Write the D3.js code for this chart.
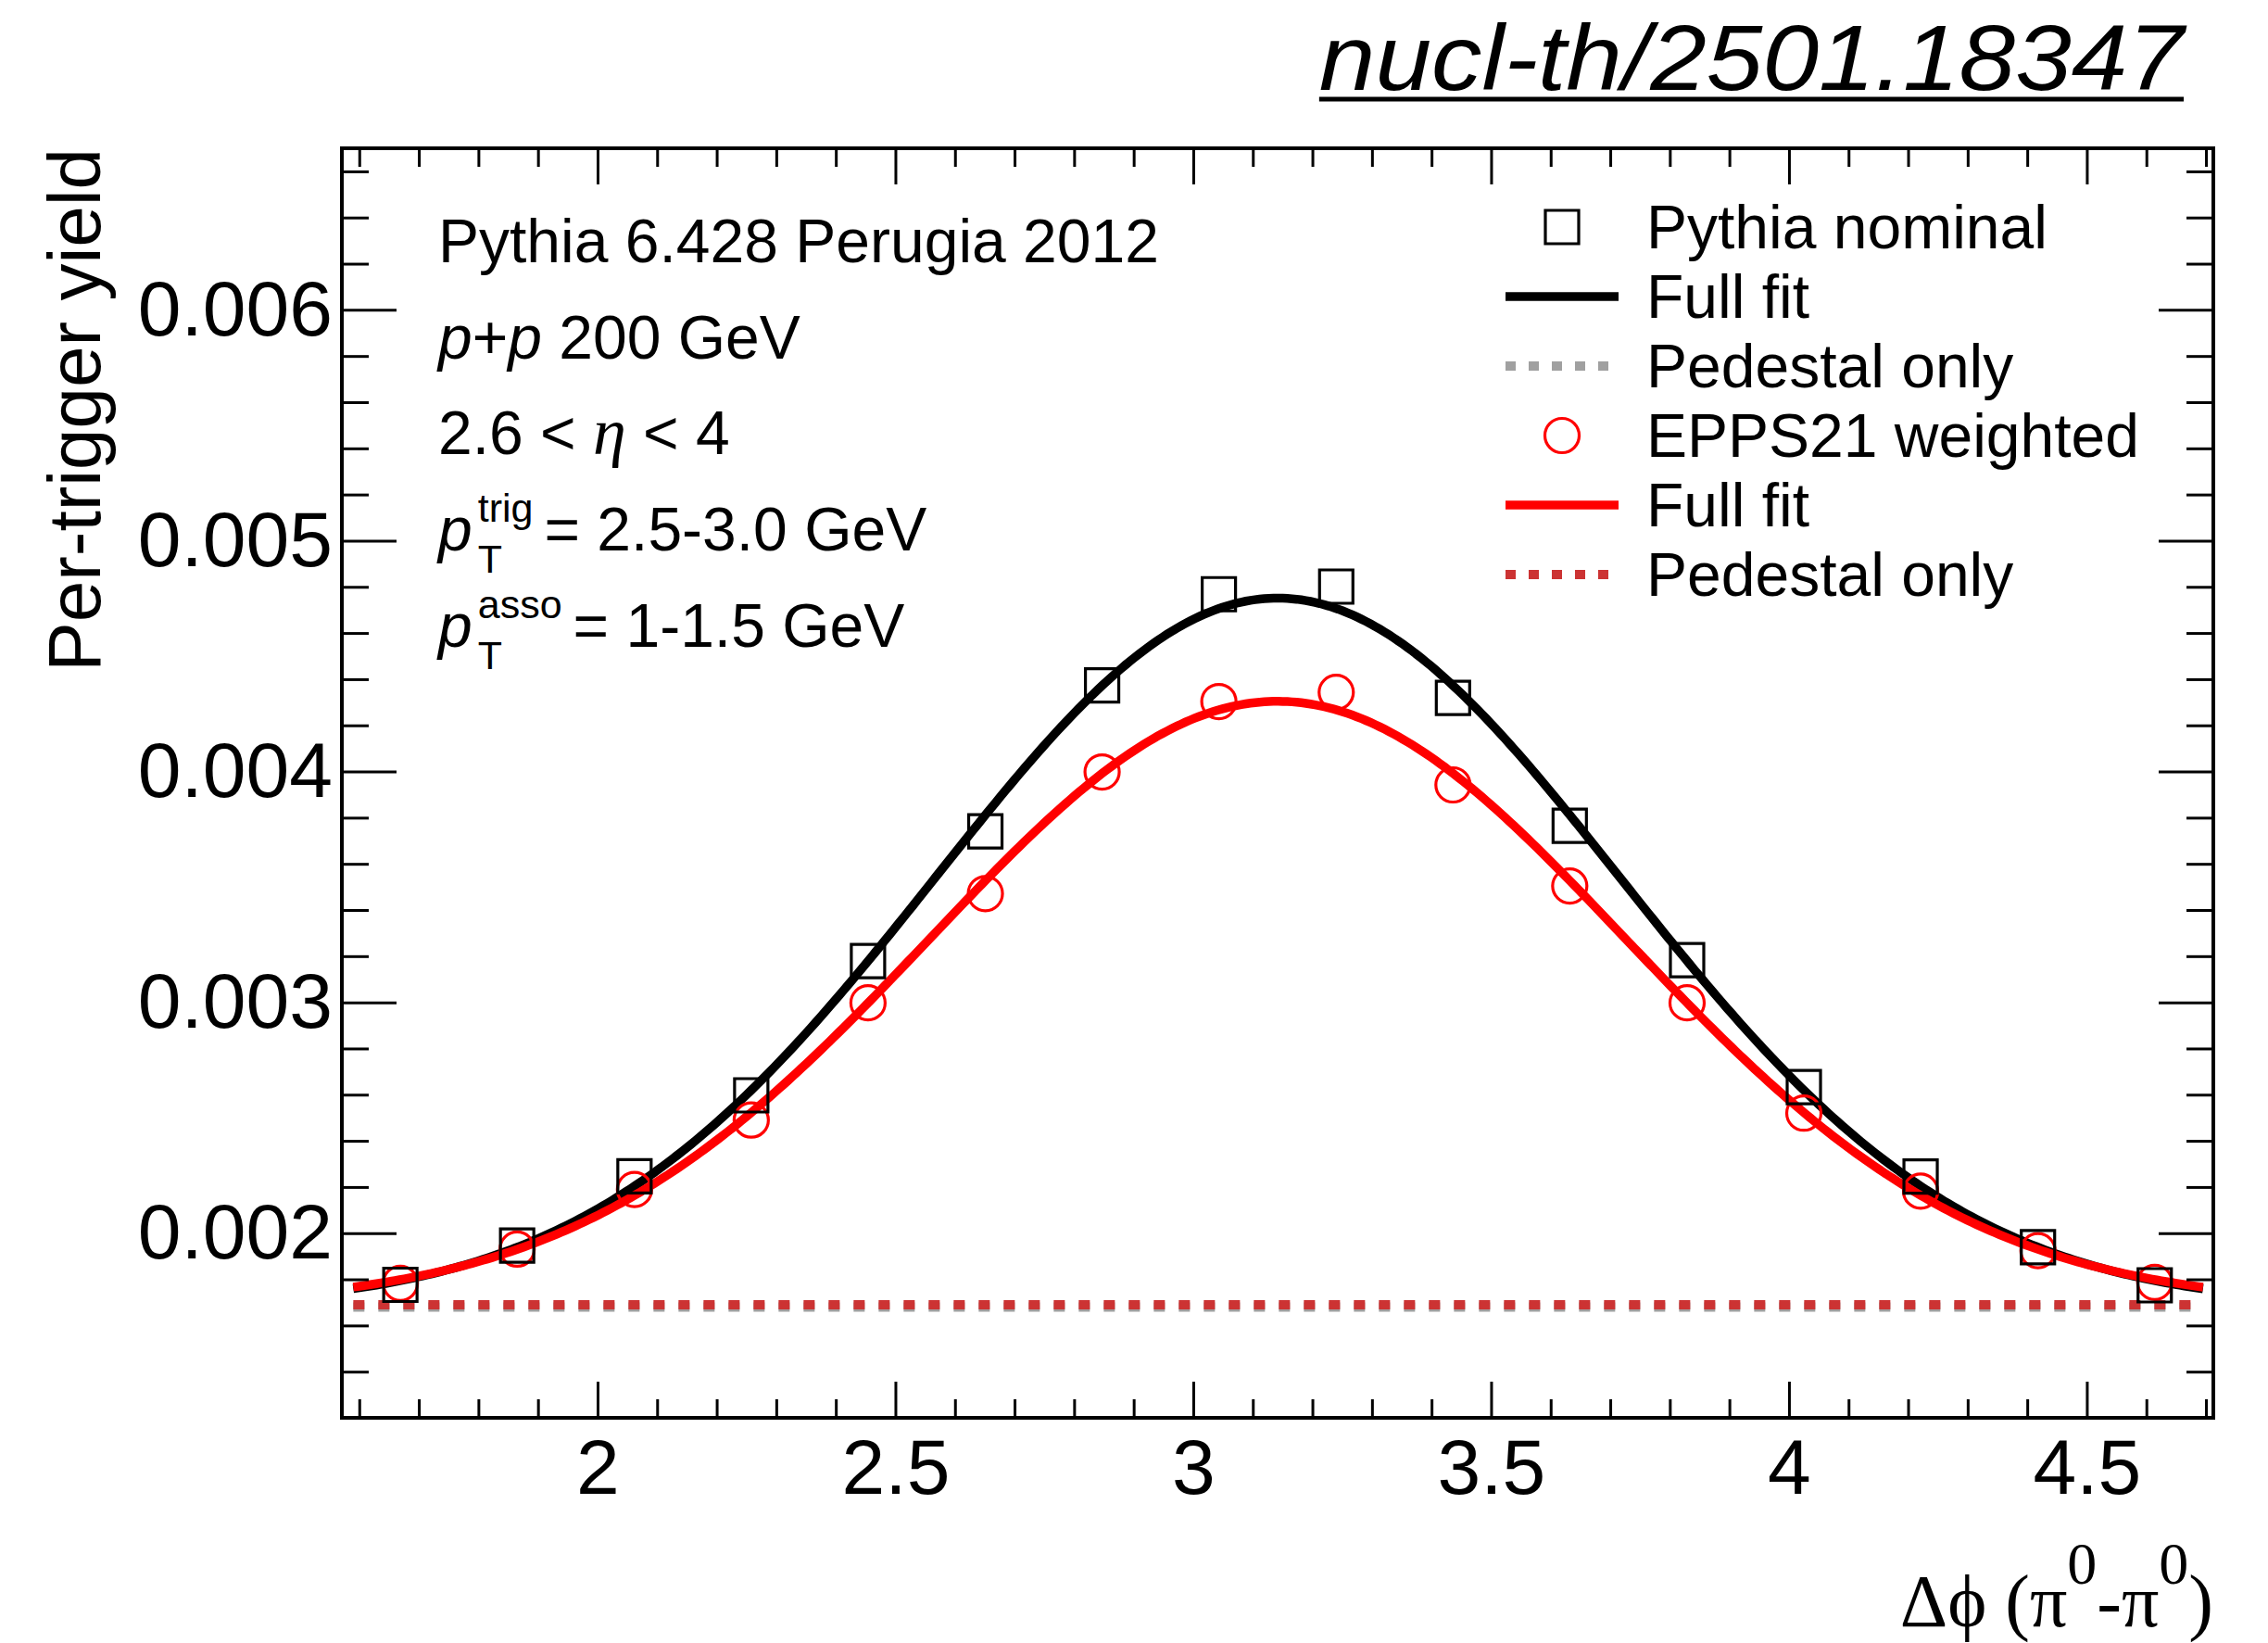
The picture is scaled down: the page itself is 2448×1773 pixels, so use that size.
<!DOCTYPE html>
<html>
<head>
<meta charset="utf-8">
<script src="https://cdn.jsdelivr.net/npm/d3@7"></script>
<style>
  html, body { margin: 0; padding: 0; background: #ffffff; }
  svg { display: block; }
</style>
</head>
<body>
<svg id="chart" width="2448" height="1773"></svg>
<script>
// Δφ bin centres (rad) of the away-side correlation histogram
const dphiBins = [1.669, 1.865, 2.062, 2.258, 2.454, 2.651, 2.847, 3.043,
                  3.240, 3.436, 3.632, 3.829, 4.025, 4.221, 4.418, 4.614];

// Per-trigger yields
const pythiaNominal = [0.001776, 0.001946, 0.002246, 0.002597, 0.003179, 0.003741, 0.004373, 0.004768,
                       0.004801, 0.004319, 0.003765, 0.003183, 0.002633, 0.002245, 0.001939, 0.001774];
const epps21Weighted = [0.001783, 0.001931, 0.002189, 0.002490, 0.002998, 0.003471, 0.003998, 0.004303,
                        0.004343, 0.003942, 0.003504, 0.002998, 0.002520, 0.002182, 0.001924, 0.001787];

// Gaussian + pedestal fit results: [Pythia nominal, EPPS21 weighted]
const fitPedestal  = [0.00168, 0.00169];
const fitAmplitude = [0.003071, 0.002614];
const fitMean      = [3.1416, 3.1416];
const fitSigma     = [0.574, 0.584];
const fitRange     = [1.59, 4.695];

// Axis ticks
const xMajorTicks = [2, 2.5, 3, 3.5, 4, 4.5];
const xMinorTicks = [1.6, 1.7, 1.8, 1.9, 2.1, 2.2, 2.3, 2.4, 2.6, 2.7, 2.8, 2.9, 3.1, 3.2, 3.3, 3.4,
                     3.6, 3.7, 3.8, 3.9, 4.1, 4.2, 4.3, 4.4, 4.6, 4.7];
const yMajorTicks = [0.002, 0.003, 0.004, 0.005, 0.006];
const yMinorTicks = [0.0014, 0.0016, 0.0018, 0.0022, 0.0024, 0.0026, 0.0028, 0.0032, 0.0034, 0.0036, 0.0038,
                     0.0042, 0.0044, 0.0046, 0.0048, 0.0052, 0.0054, 0.0056, 0.0058, 0.0062, 0.0064, 0.0066];

// Legend entries
const legendLabels = ["Pythia nominal", "Full fit", "Pedestal only", "EPPS21 weighted", "Full fit", "Pedestal only"];

const SANS = "'Liberation Sans', Arial, Helvetica, sans-serif";
const SERIF = "'Liberation Serif', 'Times New Roman', serif";

const svg = d3.select("#chart");
const frame = { left: 369, right: 2389, top: 160, bottom: 1530 };

const x = d3.scaleLinear().domain([Math.PI / 2, 3 * Math.PI / 2]).range([frame.left, frame.right]);
const y = d3.scaleLinear().domain([0.0012, 0.0067]).range([frame.bottom, frame.top]);

svg.append("rect").attr("width", 2448).attr("height", 1773).attr("fill", "#ffffff");

svg.append("defs").append("clipPath").attr("id", "plotClip")
  .append("rect")
  .attr("x", frame.left).attr("y", frame.top)
  .attr("width", frame.right - frame.left).attr("height", frame.bottom - frame.top);

const plotArea = svg.append("g").attr("clip-path", "url(#plotClip)");

// ---- pedestal levels (dotted) ----
const pedColors = ["#a0a0a0", "#cc3333"];
[0, 1].forEach(i => {
  plotArea.append("line")
    .attr("x1", x(fitRange[0])).attr("x2", x(fitRange[1]))
    .attr("y1", y(fitPedestal[i])).attr("y2", y(fitPedestal[i]))
    .attr("stroke", pedColors[i])
    .attr("stroke-width", 10)
    .attr("stroke-dasharray", "12,15");
});

// ---- fit curves ----
const fitFn = i => t => fitPedestal[i] +
  fitAmplitude[i] * Math.exp(-((t - fitMean[i]) ** 2) / (2 * fitSigma[i] ** 2));
const samples = d3.range(0, 401).map(k => fitRange[0] + (fitRange[1] - fitRange[0]) * k / 400);
const line = d3.line().x(d => x(d[0])).y(d => y(d[1])).curve(d3.curveLinear);
const fitColors = ["#000000", "#ff0000"];
[0, 1].forEach(i => {
  const f = fitFn(i);
  plotArea.append("path")
    .datum(samples.map(t => [t, f(t)]))
    .attr("d", line)
    .attr("fill", "none")
    .attr("stroke", fitColors[i])
    .attr("stroke-width", 9.5);
});

// ---- markers ----
const circleSym = d3.symbol().type(d3.symbolCircle).size(Math.PI * 18.5 * 18.5);
const squareSym = d3.symbol().type(d3.symbolSquare).size(36 * 36);

plotArea.append("g").selectAll("path")
  .data(dphiBins.map((d, i) => [d, epps21Weighted[i]]))
  .join("path")
  .attr("transform", d => `translate(${x(d[0])},${y(d[1])})`)
  .attr("d", circleSym)
  .attr("fill", "none").attr("stroke", "#ff0000").attr("stroke-width", 3.2);

plotArea.append("g").selectAll("path")
  .data(dphiBins.map((d, i) => [d, pythiaNominal[i]]))
  .join("path")
  .attr("transform", d => `translate(${x(d[0])},${y(d[1])})`)
  .attr("d", squareSym)
  .attr("fill", "none").attr("stroke", "#000000").attr("stroke-width", 3.2);

// ---- axes (ticks on all four sides, pointing inward) ----
const TICK_FONT = 84;
function styleAxis(g) {
  g.select(".domain").remove();
  g.selectAll(".tick line").attr("stroke", "#000").attr("stroke-width", 3);
  g.attr("font-family", SANS).attr("font-size", TICK_FONT);
  g.selectAll(".tick text").attr("fill", "#000");
}

svg.append("g").attr("transform", `translate(0,${frame.bottom})`)
  .call(d3.axisBottom(x).tickValues(xMinorTicks).tickSizeInner(-20).tickSizeOuter(0).tickFormat(""))
  .call(styleAxis);
svg.append("g").attr("transform", `translate(0,${frame.bottom})`)
  .call(d3.axisBottom(x).tickValues(xMajorTicks).tickSizeInner(-39).tickSizeOuter(0)
    .tickPadding(22).tickFormat(d3.format("")))
  .call(styleAxis);
svg.append("g").attr("transform", `translate(0,${frame.top})`)
  .call(d3.axisTop(x).tickValues(xMinorTicks).tickSizeInner(-20).tickSizeOuter(0).tickFormat(""))
  .call(styleAxis);
svg.append("g").attr("transform", `translate(0,${frame.top})`)
  .call(d3.axisTop(x).tickValues(xMajorTicks).tickSizeInner(-39).tickSizeOuter(0).tickFormat(""))
  .call(styleAxis);

svg.append("g").attr("transform", `translate(${frame.left},0)`)
  .call(d3.axisLeft(y).tickValues(yMinorTicks).tickSizeInner(-29).tickSizeOuter(0).tickFormat(""))
  .call(styleAxis);
svg.append("g").attr("transform", `translate(${frame.left},0)`)
  .call(d3.axisLeft(y).tickValues(yMajorTicks).tickSizeInner(-59).tickSizeOuter(0)
    .tickPadding(10).tickFormat(d3.format(".3f")))
  .call(styleAxis);
svg.append("g").attr("transform", `translate(${frame.right},0)`)
  .call(d3.axisRight(y).tickValues(yMinorTicks).tickSizeInner(-29).tickSizeOuter(0).tickFormat(""))
  .call(styleAxis);
svg.append("g").attr("transform", `translate(${frame.right},0)`)
  .call(d3.axisRight(y).tickValues(yMajorTicks).tickSizeInner(-59).tickSizeOuter(0).tickFormat(""))
  .call(styleAxis);

// frame
svg.append("rect")
  .attr("x", frame.left).attr("y", frame.top)
  .attr("width", frame.right - frame.left).attr("height", frame.bottom - frame.top)
  .attr("fill", "none").attr("stroke", "#000").attr("stroke-width", 4);

// ---- axis titles ----
svg.append("text")
  .attr("transform", `translate(108,${frame.top}) rotate(-90)`)
  .attr("text-anchor", "end")
  .attr("font-family", SANS).attr("font-size", 80)
  .text("Per-trigger yield");

const xTitle = svg.append("text")
  .attr("x", frame.right).attr("y", 1755)
  .attr("text-anchor", "end")
  .attr("font-family", SERIF).attr("font-size", 80);
xTitle.append("tspan").text("\u0394\u03d5 (\u03c0");
xTitle.append("tspan").attr("font-size", 64).attr("dy", -46).text("0");
xTitle.append("tspan").attr("dy", 46).text("-\u03c0");
xTitle.append("tspan").attr("font-size", 64).attr("dy", -46).text("0");
xTitle.append("tspan").attr("dy", 46).text(")");

// ---- header label (slightly wide italic, underlined) ----
const headerRight = 2357, headerBase = 97;
const header = svg.append("text")
  .attr("x", 0).attr("y", 0)
  .attr("text-anchor", "end")
  .attr("transform", `translate(${headerRight},${headerBase}) scale(1.09,1)`)
  .attr("font-family", SANS).attr("font-style", "italic").attr("font-size", 100)
  .text("nucl-th/2501.18347");
const headerWidth = header.node().getComputedTextLength() * 1.09;
svg.append("line")
  .attr("x1", headerRight - headerWidth).attr("x2", headerRight)
  .attr("y1", 107).attr("y2", 107)
  .attr("stroke", "#000").attr("stroke-width", 5);

// ---- information text ----
const infoX = 473, infoY0 = 283, infoStep = 103.7, infoSize = 66;
const info = svg.append("g").attr("font-family", SANS).attr("font-size", infoSize);

info.append("text").attr("x", infoX).attr("y", infoY0).text("Pythia 6.428 Perugia 2012");

const l2 = info.append("text").attr("x", infoX).attr("y", infoY0 + infoStep);
l2.append("tspan").attr("font-style", "italic").text("p");
l2.append("tspan").text("+");
l2.append("tspan").attr("font-style", "italic").text("p");
l2.append("tspan").text(" 200 GeV");

const l3 = info.append("text").attr("x", infoX).attr("y", infoY0 + 2 * infoStep);
l3.append("tspan").text("2.6 < ");
l3.append("tspan").attr("font-family", SERIF).attr("font-style", "italic").attr("font-size", 72).text("\u03b7");
l3.append("tspan").text(" < 4");

function ptLine(baseY, sup, rest) {
  const p = info.append("text").attr("x", infoX).attr("y", baseY)
    .attr("font-style", "italic").text("p");
  const pw = p.node().getComputedTextLength();
  const sx = infoX + pw + 6;
  const s1 = info.append("text").attr("x", sx).attr("y", baseY - 31)
    .attr("font-size", 43).text(sup);
  const s2 = info.append("text").attr("x", sx).attr("y", baseY + 24)
    .attr("font-size", 43).text("T");
  const w = Math.max(s1.node().getComputedTextLength(), s2.node().getComputedTextLength());
  info.append("text").attr("x", sx + w + 12).attr("y", baseY).text(rest);
}
ptLine(infoY0 + 3 * infoStep, "trig", "= 2.5-3.0 GeV");
ptLine(infoY0 + 4 * infoStep, "asso", "= 1-1.5 GeV");

// ---- legend ----
const legX = 1686, legTextX = 1777, legY0 = 245, legStep = 75;
const legend = svg.append("g").attr("font-family", SANS).attr("font-size", 66);
legendLabels.forEach((lab, i) => {
  const cy = legY0 + i * legStep;
  const kind = i % 3;
  const series = Math.floor(i / 3);
  if (kind === 0) {
    legend.append("path")
      .attr("transform", `translate(${legX},${cy})`)
      .attr("d", series === 0 ? squareSym : circleSym)
      .attr("fill", "none")
      .attr("stroke", series === 0 ? "#000" : "#ff0000")
      .attr("stroke-width", 3.2);
  } else if (kind === 1) {
    legend.append("line")
      .attr("x1", legX - 61).attr("x2", legX + 61)
      .attr("y1", cy).attr("y2", cy)
      .attr("stroke", fitColors[series]).attr("stroke-width", 9.5);
  } else {
    legend.append("line")
      .attr("x1", legX - 61).attr("x2", legX + 61)
      .attr("y1", cy).attr("y2", cy)
      .attr("stroke", pedColors[series]).attr("stroke-width", 10)
      .attr("stroke-dasharray", "11,14");
  }
  legend.append("text")
    .attr("x", legTextX).attr("y", cy + 23)
    .text(lab);
});
</script>
</body>
</html>
